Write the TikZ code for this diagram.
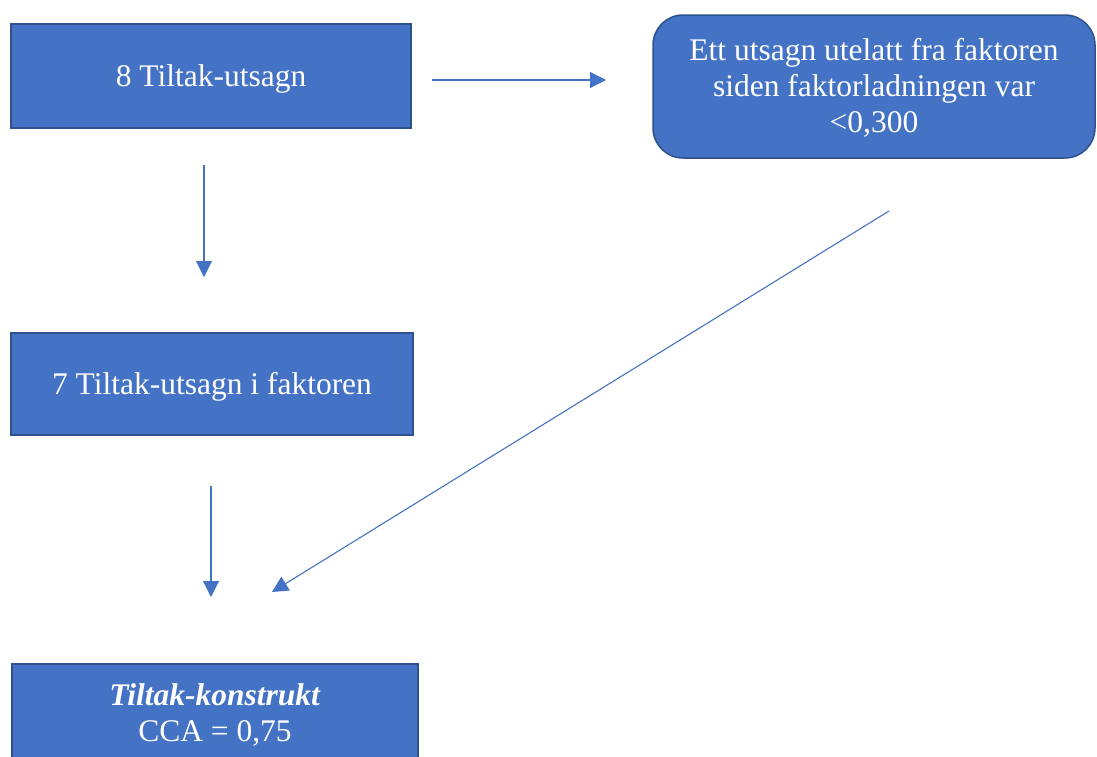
\documentclass[tikz,border=0pt]{standalone}
\usepackage{fontspec}
\setmainfont{Liberation Serif}
\usetikzlibrary{arrows.meta}
\definecolor{boxfill}{HTML}{4472C4}
\definecolor{boxline}{HTML}{2F528F}
\definecolor{arrowcol}{HTML}{4472C4}
\newcommand{\boxtext}[1]{\raisebox{-3pt}[\height][\depth]{\setlength{\tabcolsep}{0pt}\begin{tabular}{c}#1\end{tabular}}}
\tikzset{
  box/.style={draw=boxline, line width=1.5pt, fill=boxfill, text=white, align=center,
    inner sep=0pt, font=\fontsize{31.5pt}{36pt}\selectfont},
  conn/.style={draw=arrowcol, line width=1.1pt, -{Triangle[length=16pt,width=16pt]}}
}
\begin{document}
\begin{tikzpicture}[x=1pt,y=1pt]
\useasboundingbox (0,0) rectangle (1097,-756);
\clip (0,0) rectangle (1097,-756);
\node[box, minimum width=400pt, minimum height=104pt] (b1) at (211,-76) {\boxtext{8 Tiltak-utsagn}};
\node[box, rounded corners=30pt, minimum width=442pt, minimum height=143pt] (b2) at (874,-86.5)
  {\boxtext{Ett utsagn utelatt fra faktoren\\siden faktorladningen var\\<0,300}};
\node[box, minimum width=402pt, minimum height=102pt] (b3) at (212,-384) {\boxtext{7 Tiltak-utsagn i faktoren}};
\node[box, minimum width=406pt, minimum height=98pt] (b4) at (215,-713)
  {\boxtext{\textbf{\textit{Tiltak-konstrukt}}\\CCA = 0,75}};
\coordinate (h1) at (432,-80);
\coordinate (h2) at (606,-80);
\coordinate (v1a) at (204,-165);
\coordinate (v1b) at (204,-277);
\coordinate (v2a) at (211,-486);
\coordinate (v2b) at (211,-597);
\coordinate (da) at (889,-211);
\coordinate (db) at (272,-592);
\draw[conn] (h1) -- (h2);
\draw[conn] (v1a) -- (v1b);
\draw[conn] (v2a) -- (v2b);
\draw[conn] (da) -- (db);
\end{tikzpicture}
\end{document}
